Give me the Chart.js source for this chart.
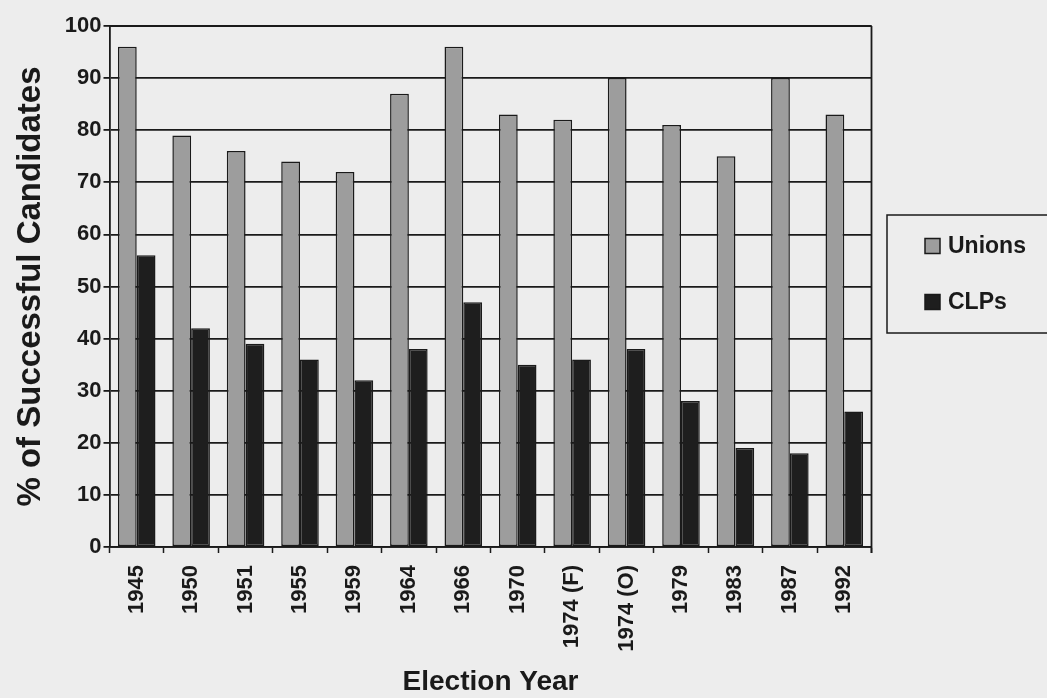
<!DOCTYPE html>
<html>
<head>
<meta charset="utf-8">
<title>Successful Candidates by Sponsor, 1945–1992</title>
<script src="https://cdn.jsdelivr.net/npm/chart.js@4/dist/chart.umd.min.js"></script>
<style>
  html, body { margin: 0; padding: 0; background: #ededed; }
  #wrap { position: relative; width: 1047px; height: 698px; }
</style>
</head>
<body>
<div id="wrap"><canvas id="chart"></canvas></div>
<script>
// Election years on the category axis
const electionYears = ['1945', '1950', '1951', '1955', '1959', '1964', '1966',
  '1970', '1974 (F)', '1974 (O)', '1979', '1983', '1987', '1992'];

// Percentage of sponsored candidates who were elected
const unionsPct = [96, 79, 76, 74, 72, 87, 96, 83, 82, 90, 81, 75, 90, 83];
const clpsPct   = [56, 42, 39, 36, 32, 38, 47, 35, 36, 38, 28, 19, 18, 26];

const seriesNames = ['Unions', 'CLPs'];
const yAxisMin = 0, yAxisMax = 100, yAxisStep = 10;

const INK = '#1a1a1a';
const GREY = '#9d9d9d';
const DARK = '#1e1e1e';
const FONT = '"Liberation Sans", Arial, sans-serif';

// Closes the plot frame on the top and right-hand side
const frame = {
  id: 'frame',
  afterDatasetsDraw(chart) {
    const { ctx, chartArea: a } = chart;
    ctx.save();
    ctx.strokeStyle = INK;
    ctx.lineWidth = 1.8;
    ctx.beginPath();
    ctx.moveTo(a.right, a.top);
    ctx.lineTo(a.right, a.bottom + 6);
    ctx.moveTo(a.left, a.top);
    ctx.lineTo(a.right, a.top);
    ctx.stroke();
    ctx.restore();
  }
};

// Boxed legend to the right of the plot
const boxedLegend = {
  id: 'boxedLegend',
  afterDraw(chart) {
    const { ctx } = chart;
    const ds = chart.data.datasets;
    ctx.save();
    ctx.strokeStyle = INK;
    ctx.lineWidth = 1.5;
    ctx.strokeRect(887, 215, 200, 118);
    const rows = [246, 302];
    ds.forEach((d, i) => {
      const y = rows[i];
      ctx.fillStyle = d.backgroundColor;
      ctx.fillRect(925, y - 7.5, 15, 15);
      ctx.strokeStyle = INK;
      ctx.lineWidth = 1.5;
      ctx.strokeRect(925, y - 7.5, 15, 15);
      ctx.fillStyle = INK;
      ctx.font = 'bold 23px ' + FONT;
      ctx.textAlign = 'left';
      ctx.textBaseline = 'middle';
      ctx.fillText(d.label, 948, y + 1);
    });
    ctx.restore();
  }
};

new Chart(document.getElementById('chart'), {
  type: 'bar',
  data: {
    labels: electionYears,
    datasets: [
      {
        label: seriesNames[0],
        data: unionsPct,
        backgroundColor: GREY,
        borderColor: INK,
        borderWidth: 1.5,
        borderSkipped: false,
        categoryPercentage: 0.69,
        barPercentage: 1.0
      },
      {
        label: seriesNames[1],
        data: clpsPct,
        backgroundColor: DARK,
        borderColor: INK,
        borderWidth: 1.5,
        borderSkipped: false,
        categoryPercentage: 0.69,
        barPercentage: 1.0
      }
    ]
  },
  options: {
    responsive: true,
    maintainAspectRatio: false,
    animation: false,
    layout: { padding: { top: 26, right: 175.5, bottom: 0, left: 0 } },
    plugins: {
      legend: { display: false },
      tooltip: { enabled: false }
    },
    scales: {
      x: {
        offset: true,
        afterFit(scale) { scale.height = 151; },
        grid: {
          offset: true,
          drawOnChartArea: false,
          drawTicks: true,
          tickLength: 6,
          tickWidth: 1.5,
          tickColor: INK
        },
        border: { display: true, color: INK, width: 1.8 },
        ticks: {
          autoSkip: false,
          minRotation: 90,
          maxRotation: 90,
          padding: 12,
          color: INK,
          font: { family: FONT, size: 22, weight: 'bold' }
        },
        title: {
          display: true,
          text: 'Election Year',
          color: INK,
          padding: { top: 0, bottom: 1.5 },
          font: { family: FONT, size: 28, weight: 'bold', lineHeight: 1.0 }
        }
      },
      y: {
        min: yAxisMin,
        max: yAxisMax,
        afterFit(scale) { scale.width = 109.5; },
        grid: {
          color: INK,
          lineWidth: 1.8,
          drawTicks: true,
          tickLength: 6,
          tickColor: INK
        },
        border: { display: true, color: INK, width: 1.8 },
        ticks: {
          stepSize: yAxisStep,
          padding: 2,
          color: INK,
          font: { family: FONT, size: 22, weight: 'bold' }
        },
        title: {
          display: true,
          text: '% of Successful Candidates',
          color: INK,
          padding: { top: 14.5, bottom: 0 },
          font: { family: FONT, size: 33, weight: 'bold', lineHeight: 1.0 }
        }
      }
    }
  },
  plugins: [frame, boxedLegend]
});
</script>
</body>
</html>
